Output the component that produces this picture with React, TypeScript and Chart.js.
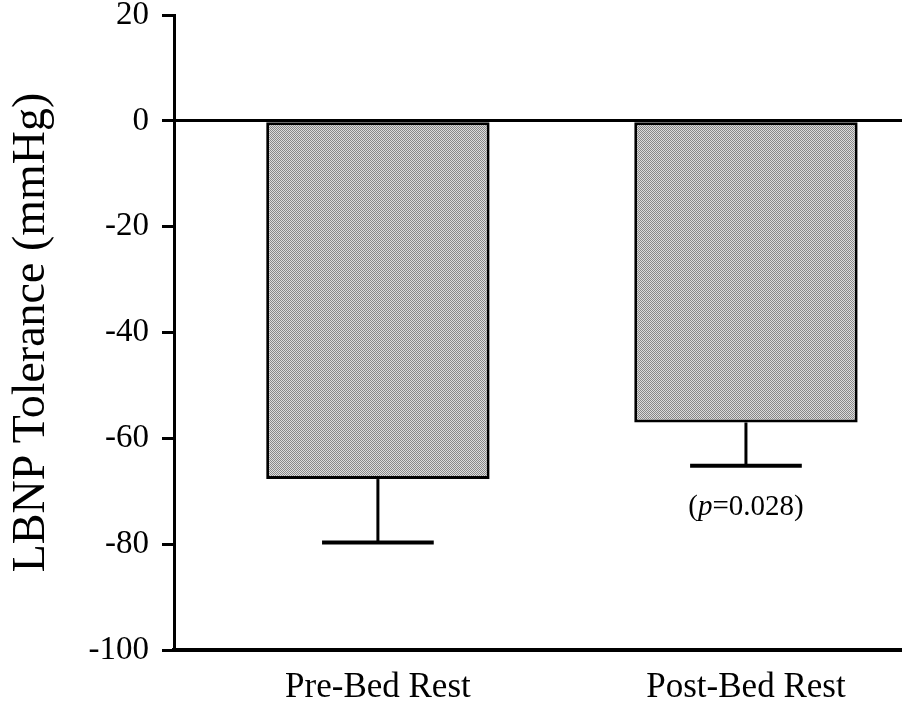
import { useEffect, useRef } from 'react';
import { Chart, registerables } from 'chart.js';

Chart.register(...registerables);

const categories = ['Pre-Bed Rest', 'Post-Bed Rest'];
const means = [-67.7, -57];
const errors = [12, 8.2];
const yTicks = [-100, -80, -60, -40, -20, 0, 20];
const yTitle = 'LBNP Tolerance (mmHg)';
const pNoteParts = ['(', 'p', '=0.028)'];
const pNoteIndex = 1;

const SERIF = "'Liberation Serif', 'Times New Roman', Times, serif";

function makePattern(): CanvasPattern | string {
  const c = document.createElement('canvas');
  c.width = 2;
  c.height = 2;
  const g = c.getContext('2d');
  if (!g) return '#b4b4b4';
  g.fillStyle = '#dcdcdc';
  g.fillRect(0, 0, 2, 2);
  g.fillStyle = '#888888';
  g.fillRect(0, 0, 1, 1);
  g.fillRect(1, 1, 1, 1);
  return g.createPattern(c, 'repeat') || '#b4b4b4';
}

const errorBarPlugin = {
  id: 'errorBars',
  afterDatasetsDraw(chart: any) {
    const meta = chart.getDatasetMeta(0);
    const yScale = chart.scales.y;
    const ctx = chart.ctx as CanvasRenderingContext2D;
    ctx.save();
    ctx.strokeStyle = '#000';
    ctx.fillStyle = '#000';
    meta.data.forEach((bar: any, i: number) => {
      const p = bar.getProps(['x', 'y', 'width'], true);
      const yEnd = yScale.getPixelForValue(means[i] - errors[i]);
      ctx.lineWidth = 3;
      ctx.beginPath();
      ctx.moveTo(p.x, p.y);
      ctx.lineTo(p.x, yEnd);
      ctx.stroke();
      ctx.lineWidth = 4;
      const half = p.width * 0.25;
      ctx.beginPath();
      ctx.moveTo(p.x - half, yEnd);
      ctx.lineTo(p.x + half, yEnd);
      ctx.stroke();
      if (i === pNoteIndex) {
        const normal = `29px ${SERIF}`;
        const italic = `italic 29px ${SERIF}`;
        const fonts = [normal, italic, normal];
        const widths = pNoteParts.map((t, k) => {
          ctx.font = fonts[k];
          return ctx.measureText(t).width;
        });
        const total = widths.reduce((a, b) => a + b, 0);
        let x = p.x - total / 2;
        const ty = yEnd + 42;
        ctx.textBaseline = 'middle';
        ctx.textAlign = 'left';
        pNoteParts.forEach((t, k) => {
          ctx.font = fonts[k];
          ctx.fillText(t, x, ty);
          x += widths[k];
        });
      }
    });
    ctx.restore();
  },
};

export default function App() {
  const ref = useRef<HTMLCanvasElement | null>(null);

  useEffect(() => {
    if (!ref.current) return;
    const pattern = makePattern();
    const chart = new Chart(ref.current, {
      type: 'bar',
      data: {
        datasets: [
          {
            data: categories.map((_, i) => ({ x: i + 1, y: means[i] })) as any,
            backgroundColor: pattern as any,
            borderColor: '#000',
            borderWidth: 3,
            borderSkipped: false,
            categoryPercentage: 1,
            barPercentage: 0.607,
          },
        ],
      },
      options: {
        animation: false,
        responsive: false,
        layout: { padding: { top: 15, right: 0, bottom: 0, left: 0 } },
        plugins: { legend: { display: false }, tooltip: { enabled: false } },
        scales: {
          x: {
            type: 'linear',
            offset: false,
            min: 0.446,
            max: 2.424,
            afterBuildTicks: (axis: any) => {
              axis.ticks = categories.map((_, i) => ({ value: i + 1 }));
            },
            afterFit: (scale: any) => {
              scale.height = 64;
              scale.paddingLeft = 0;
              scale.paddingRight = 0;
            },
            grid: { display: false, drawTicks: false, offset: false },
            border: { display: true, color: '#000', width: 4 },
            ticks: {
              autoSkip: false,
              maxRotation: 0,
              padding: 17,
              color: '#000',
              font: { family: SERIF, size: 35 },
              callback: (v: any) => categories[Number(v) - 1] ?? '',
            },
          },
          y: {
            type: 'linear',
            min: -100,
            max: 20,
            afterBuildTicks: (axis: any) => {
              axis.ticks = yTicks.map((v) => ({ value: v }));
            },
            afterFit: (scale: any) => {
              scale.width = 174;
              scale.paddingTop = 0;
              scale.paddingBottom = 0;
            },
            grid: {
              drawOnChartArea: true,
              drawTicks: true,
              tickLength: 12,
              tickColor: '#000',
              tickWidth: 3,
              lineWidth: 3,
              color: (ctx: any) => (ctx.tick && ctx.tick.value === 0 ? '#000' : 'rgba(0,0,0,0)'),
            },
            border: { display: true, color: '#000', width: 3 },
            ticks: {
              padding: 13,
              color: '#000',
              font: { family: SERIF, size: 33 },
              callback: (v: any) => String(v),
            },
            title: {
              display: true,
              text: yTitle,
              color: '#000',
              padding: { top: 4, bottom: 0 },
              font: { family: SERIF, size: 46 },
            },
          },
        },
      },
      plugins: [errorBarPlugin],
    });
    return () => chart.destroy();
  }, []);

  return (
    <div style={{ position: 'fixed', left: 0, top: 0, width: 902, height: 714, background: '#fff' }}>
      <canvas ref={ref} width={902} height={714} style={{ display: 'block' }} />
    </div>
  );
}
